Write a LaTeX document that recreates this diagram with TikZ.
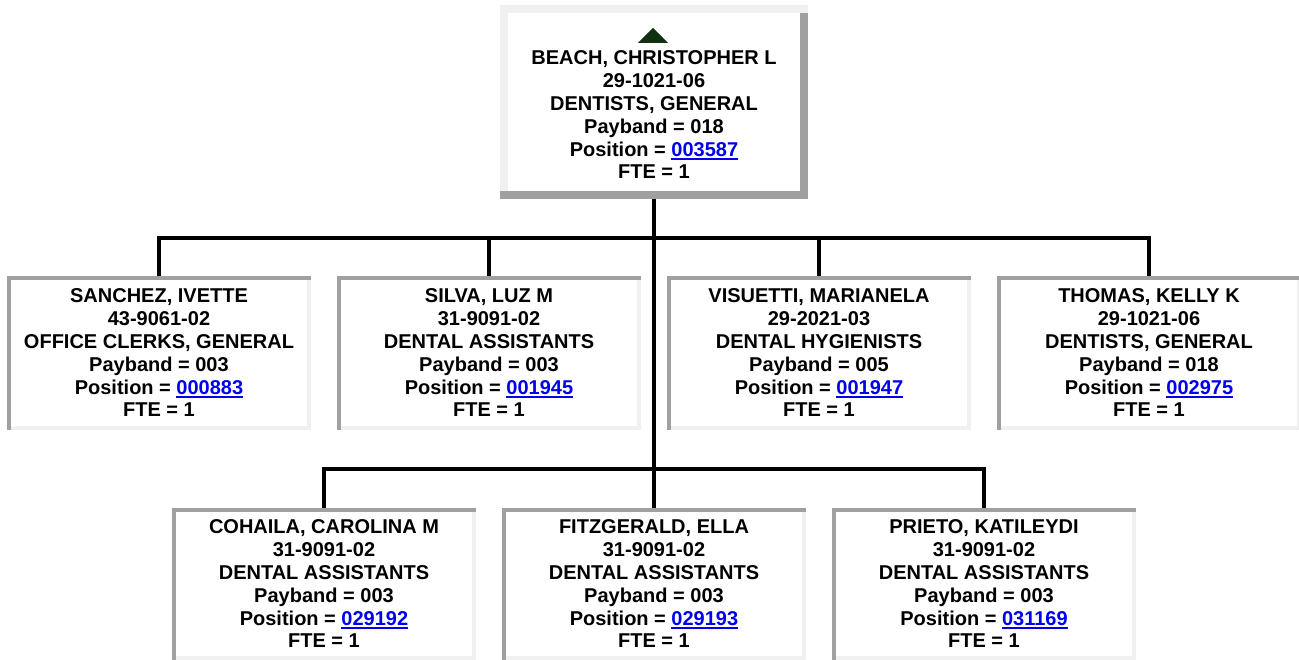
\documentclass[tikz,border=0pt]{standalone}
\usepackage{fontspec}
\setmainfont{Liberation Sans}
\definecolor{bdark}{HTML}{A0A0A0}
\definecolor{blight}{HTML}{F0F0F0}
\definecolor{linkblue}{RGB}{0,0,238}
\definecolor{tricol}{RGB}{16,48,16}
\newcommand\lnk[1]{\textcolor{linkblue}{\setbox0\hbox{#1}\rlap{\rule[-4.3pt]{\wd0}{2pt}}\box0}}
\newcommand\boxfont{\fontsize{20pt}{22.8pt}\selectfont\bfseries}
\tikzset{
  inset/.style={inner sep=0pt, align=center, font=\boxfont, fill=white,
    minimum width=304pt, minimum height=154pt,
    path picture={
      \fill[bdark] (path picture bounding box.north west) rectangle ([yshift=-4pt]path picture bounding box.north east);
      \fill[bdark] (path picture bounding box.north west) rectangle ([xshift=4pt]path picture bounding box.south west);
      \fill[blight] ([shift={(-4pt,-4pt)}]path picture bounding box.north east) rectangle (path picture bounding box.south east);
      \fill[blight] ([shift={(4pt,4pt)}]path picture bounding box.south west) rectangle (path picture bounding box.south east);
    }},
  outset/.style={inner sep=0pt, align=center, font=\boxfont, fill=white,
    minimum width=308pt, minimum height=194pt,
    path picture={
      \fill[blight] (path picture bounding box.north west) rectangle ([yshift=-8pt]path picture bounding box.north east);
      \fill[blight] (path picture bounding box.north west) rectangle ([xshift=8pt]path picture bounding box.south west);
      \fill[bdark] ([shift={(-8pt,-8pt)}]path picture bounding box.north east) rectangle (path picture bounding box.south east);
      \fill[bdark] ([yshift=8pt]path picture bounding box.south west) rectangle (path picture bounding box.south east);
    }},
  conn/.style={line width=4pt, black, line join=miter},
}
\begin{document}
\begin{tikzpicture}[x=1pt, y=-1pt]
\useasboundingbox[fill=white] (0,0) rectangle (1299,660);
\node[outset] (top) at (654,102) {\rule{0pt}{17.2pt}\\BEACH, CHRISTOPHER L\\29-1021-06\\DENTISTS, GENERAL\\Payband = 018\\Position = \lnk{003587}\\FTE = 1};
\fill[tricol] ([shift={(-16pt,-38pt)}]top.north) -- ([shift={(-1pt,-23pt)}]top.north) -- ([shift={(14pt,-38pt)}]top.north) -- cycle;

\node[inset] (sanchez) at (159,353) {SANCHEZ, IVETTE\\43-9061-02\\OFFICE CLERKS, GENERAL\\Payband = 003\\Position = \lnk{000883}\\FTE = 1};
\node[inset] (silva) at (489,353) {SILVA, LUZ M\\31-9091-02\\DENTAL ASSISTANTS\\Payband = 003\\Position = \lnk{001945}\\FTE = 1};
\node[inset] (visuetti) at (819,353) {VISUETTI, MARIANELA\\29-2021-03\\DENTAL HYGIENISTS\\Payband = 005\\Position = \lnk{001947}\\FTE = 1};
\node[inset] (thomas) at (1149,353) {THOMAS, KELLY K\\29-1021-06\\DENTISTS, GENERAL\\Payband = 018\\Position = \lnk{002975}\\FTE = 1};

\node[inset, minimum height=152pt] (cohaila) at (324,584) {COHAILA, CAROLINA M\\31-9091-02\\DENTAL ASSISTANTS\\Payband = 003\\Position = \lnk{029192}\\FTE = 1};
\node[inset, minimum height=152pt] (fitzgerald) at (654,584) {FITZGERALD, ELLA\\31-9091-02\\DENTAL ASSISTANTS\\Payband = 003\\Position = \lnk{029193}\\FTE = 1};
\node[inset, minimum height=152pt] (prieto) at (984,584) {PRIETO, KATILEYDI\\31-9091-02\\DENTAL ASSISTANTS\\Payband = 003\\Position = \lnk{031169}\\FTE = 1};

\coordinate (bar1) at (654,238);
\coordinate (bar2) at (654,469);
\draw[conn] (top.south) -- (fitzgerald.north);
\draw[conn] (sanchez.north) |- (bar1) -| (thomas.north);
\draw[conn] (silva.north) -- (silva.north |- bar1);
\draw[conn] (visuetti.north) -- (visuetti.north |- bar1);
\draw[conn] (cohaila.north) |- (bar2) -| (prieto.north);
\end{tikzpicture}
\end{document}
